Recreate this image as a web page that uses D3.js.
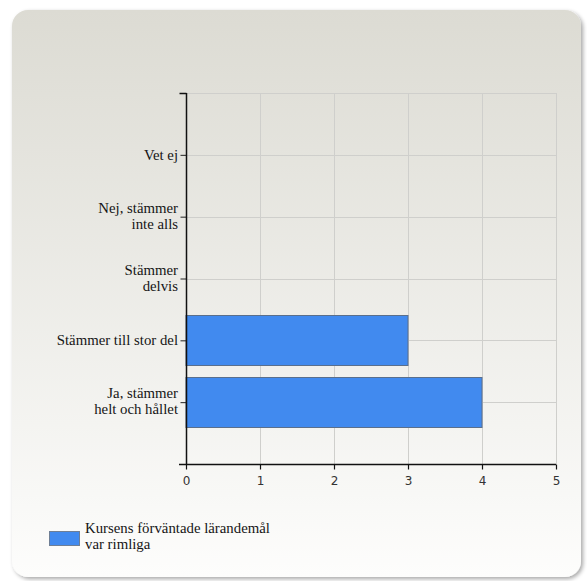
<!DOCTYPE html>
<html><head><meta charset="utf-8">
<script src="https://cdn.jsdelivr.net/npm/d3@7"></script>
<style>html,body{margin:0;padding:0;background:#fff;}svg{display:block;}
</style>
</head><body>
<svg id="c" width="587" height="581"></svg>
<script>
const categories = ["Vet ej","Nej, stämmer\ninte alls","Stämmer\ndelvis","Stämmer till stor del","Ja, stämmer\nhelt och hållet"];
const values = [0,0,0,3,4];
const xTicks = [0,1,2,3,4,5];
const seriesName = ["Kursens förväntade lärandemål","var rimliga"];

const SERIF = "'Liberation Serif', 'Times New Roman', serif";
const SANS = "'DejaVu Sans', sans-serif";

const svg = d3.select("#c");
const defs = svg.append("defs");
const g1 = defs.append("linearGradient").attr("id","bg").attr("x1",0).attr("y1",0).attr("x2",0).attr("y2",1);
g1.append("stop").attr("offset","0%").attr("stop-color","#dcdbd3");
g1.append("stop").attr("offset","100%").attr("stop-color","#fdfdfc");
const f = defs.append("filter").attr("id","sh").attr("x","-5%").attr("y","-5%").attr("width","115%").attr("height","115%");
f.append("feGaussianBlur").attr("in","SourceAlpha").attr("stdDeviation",2);
f.append("feOffset").attr("dx",2).attr("dy",2).attr("result","b");
f.append("feComponentTransfer").append("feFuncA").attr("type","linear").attr("slope",0.35);
const fm = f.append("feMerge"); fm.append("feMergeNode"); fm.append("feMergeNode").attr("in","SourceGraphic");

svg.append("rect").attr("x",12).attr("y",10).attr("width",569).attr("height",567)
  .attr("rx",16).attr("ry",16).attr("fill","url(#bg)").attr("filter","url(#sh)");

const L=186,R=556,T=93,B=464;
const x = d3.scaleLinear().domain([0,5]).range([L,R]);
const y = d3.scalePoint().domain(categories.slice().reverse()).range([B,T]).padding(1);
const bh = 50;

// grid
const grid = svg.append("g").attr("stroke","#cfcfcc").attr("stroke-width",1);
xTicks.slice(1).forEach(t=>grid.append("line").attr("x1",x(t)+0.5).attr("x2",x(t)+0.5).attr("y1",T).attr("y2",B));
categories.forEach(c=>grid.append("line").attr("x1",L).attr("x2",R).attr("y1",Math.round(y(c))+0.5).attr("y2",Math.round(y(c))+0.5));
grid.append("line").attr("x1",L).attr("x2",R).attr("y1",T+0.5).attr("y2",T+0.5);

// bars
svg.append("g").selectAll("rect").data(categories.map((c,i)=>({c,v:values[i]})).filter(d=>d.v>0))
  .join("rect").attr("x",x(0)).attr("y",d=>Math.round(y(d.c)-bh/2)+0.5)
  .attr("width",d=>x(d.v)-x(0)).attr("height",bh)
  .attr("fill","#418aef").attr("stroke","#5a6f8c").attr("stroke-width",1);

// y axis
const ya = svg.append("g").attr("transform",`translate(${L+0.5},0)`)
  .call(d3.axisLeft(y).tickSize(6).tickFormat(""));
ya.select(".domain").remove();
ya.selectAll("line").attr("stroke","#222");
ya.append("line").attr("x1",0).attr("x2",0).attr("y1",T).attr("y2",B).attr("stroke","#111").attr("stroke-width",1.5);
ya.append("line").attr("x1",-7).attr("x2",0).attr("y1",T+0.5).attr("y2",T+0.5).attr("stroke","#111").attr("stroke-width",1.5);

categories.forEach(c=>{
  const lines=c.split("\n");
  const t=svg.append("text").attr("text-anchor","end").style("font-family",SERIF)
    .style("font-size","14.8px").attr("fill","#151515");
  const y0 = lines.length===1 ? y(c)+5 : y(c)-4;
  lines.forEach((ln,i)=>t.append("tspan").attr("x",L-8).attr("y",y0+i*16).text(ln));
});

// x axis
const xa = svg.append("g").attr("transform",`translate(0,${B+0.5})`)
  .call(d3.axisBottom(x).tickValues(xTicks).tickSize(5).tickSizeOuter(0).tickFormat(d3.format("d")));
xa.select(".domain").remove();
xa.append("line").attr("x1",L-7).attr("x2",R).attr("y1",0).attr("y2",0).attr("stroke","#111").attr("stroke-width",1.5);
xa.selectAll(".tick line").attr("stroke","#111").attr("stroke-width",1.2);
xa.selectAll(".tick text").style("font-family",SANS).style("font-size","12px").attr("fill","#333").attr("dy","1.05em");

// legend
svg.append("rect").attr("x",49.5).attr("y",531.5).attr("width",30).attr("height",14)
  .attr("fill","#418aef").attr("stroke","#6f7f95");
const lt = svg.append("text").style("font-family",SERIF).style("font-size","14.8px").attr("fill","#151515");
seriesName.forEach((s,i)=>lt.append("tspan").attr("x",85).attr("y",533+i*16).text(s));
</script>
</body></html>
